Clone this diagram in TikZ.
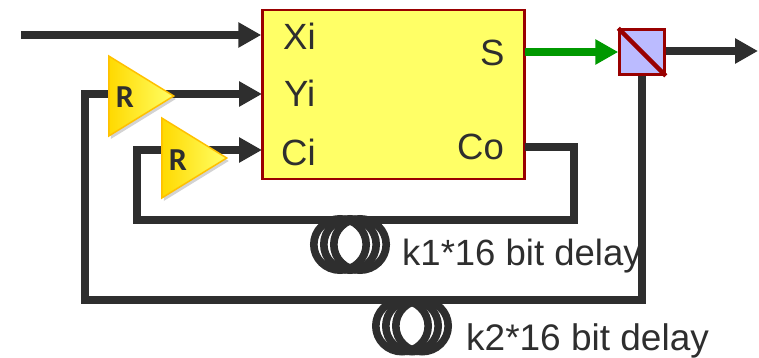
\documentclass[tikz,border=0pt]{standalone}
\usepackage{fontspec}
\setmainfont{Liberation Sans}
\newfontfamily\regfont{Carlito}
\usepackage{tikz}
\usetikzlibrary{calc,arrows.meta,shapes.geometric,shadows}
\definecolor{wire}{HTML}{2E2E2E}
\definecolor{edge}{HTML}{990000}
\definecolor{adderfill}{HTML}{FFFF66}
\definecolor{switchfill}{HTML}{BBBBFF}
\definecolor{sumgreen}{HTML}{009900}
\definecolor{regedge}{HTML}{FFC000}
\tikzset{
	wireline/.style={draw=wire,line width=8pt},
	wirearrow/.style={wireline,-{Triangle[length=23pt,width=24pt]}},
	portlabel/.style={text=wire,font=\fontsize{36.5}{36.5}\selectfont,inner sep=0pt,anchor=base west},
	regbox/.style={isosceles triangle,isosceles triangle stretches,minimum width=80pt,minimum height=65pt,inner sep=0pt,
		draw=regedge,line width=1.5pt,left color=regedge!60!yellow,right color=yellow!60,
		drop shadow={shadow xshift=2pt,shadow yshift=-3pt,opacity=.35}},
	reglabel/.style={text=wire,inner sep=0pt,font=\regfont\bfseries\fontsize{32}{32}\selectfont},
}
\begin{document}
\begin{tikzpicture}[x=1pt,y=-1pt]
		\useasboundingbox (0,0) rectangle (759,358);
		
		% adder and switch
		\node[draw=edge,fill=adderfill,line width=2.5pt,minimum width=262pt,minimum height=169pt,inner sep=0pt] (adder) at (393.5,94.5) {};
		\node[draw=edge,fill=switchfill,line width=2.5pt,minimum size=45pt,inner sep=0pt] (switch) at (642,52) {};
		\draw[edge,line width=4.5pt] (switch.north west) -- (switch.south east);
		
		% free ends of the wires
		\coordinate (in) at (21,35);
		\coordinate (out) at (758,51);
		\coordinate (xport) at (adder.west |- in);
		\coordinate (yport) at (262,94);
		\coordinate (cport) at (262,150);
		\coordinate (sport) at (525,52);
		\coordinate (coport) at (525,147);
		
		% Add inputs and outputs
		\draw[wirearrow] (in) -- (xport);
		\draw[draw=sumgreen,line width=8pt,-{Triangle[length=23pt,width=24pt]}] (sport) -- (switch.west |- sport);
		\draw[wirearrow] (switch.east |- out) -- (out);
		
		% Add feedback loops, they run on behind the registers
		\draw[wirearrow] (coport) -- (574,147) -- (574,220) -- (137,220) -- (137,150) -- (cport);
		\draw[wirearrow] (switch.south) -- (642,300) -- (85,300) -- (85,94) -- (yport);
		
		% registers
		\node[regbox,anchor=lower side] (regy) at (108,96) {};
		\node[regbox,anchor=lower side] (regc) at (161,158) {};
		\node[reglabel] (regylabel) at ($(regy.lower side)+(17,1)$) {R};
		\node[reglabel] (regclabel) at ($(regc.lower side)+(17,2)$) {R};
		
		% Add delay coils
		\foreach \cx in {340,350,360}
			\draw[draw=wire,line width=7.6pt] (\cx,244.5) ellipse (26.2pt and 25.7pt);
		\foreach \cx in {402,412,422}
			\draw[draw=wire,line width=7.6pt] (\cx,326) ellipse (26.2pt and 25.7pt);
		
		% Add labels
		\node[portlabel] (xlabel) at (283,50) {Xi};
		\node[portlabel] (ylabel) at (284,107) {Yi};
		\node[portlabel] (clabel) at (281,165) {Ci};
		\node[portlabel] (slabel) at (480,66) {S};
		\node[portlabel] (colabel) at (457,160) {Co};
		\node[portlabel] (delayone) at (402,265) {k1*16 bit delay};
		\node[portlabel,font=\fontsize{37}{37}\selectfont] (delaytwo) at (466,350) {k2*16 bit delay};
		
		\end{tikzpicture}
\end{document}
